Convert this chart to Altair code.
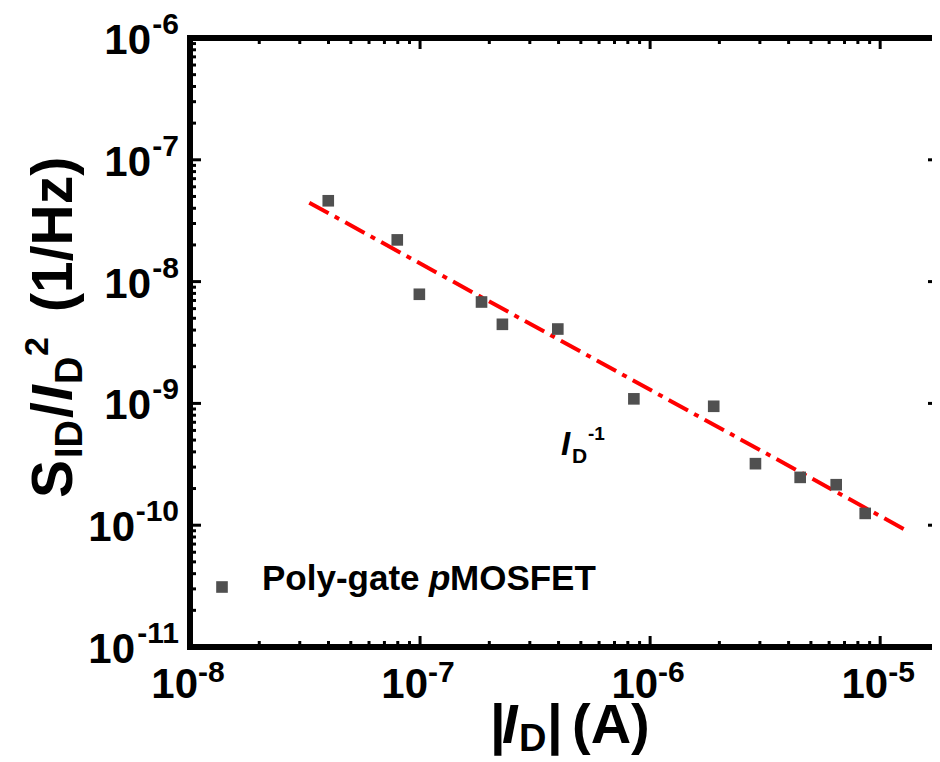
import altair as alt
import pandas as pd

# ---- data ----
id_a = [3.99e-8, 7.96e-8, 9.93e-8, 1.85e-7, 2.28e-7, 3.97e-7,
        8.5e-7, 1.89e-6, 2.87e-6, 4.49e-6, 6.44e-6, 8.61e-6]
sid_norm = [4.61e-8, 2.20e-8, 7.87e-9, 6.80e-9, 4.46e-9, 4.08e-9,
            1.09e-9, 9.47e-10, 3.20e-10, 2.47e-10, 2.15e-10, 1.25e-10]
fit_x = [3.3e-8, 1.33e-5]
fit_y = [4.45e-8, 8.85e-11]

x_label_vals = [1e-8, 1e-7, 1e-6, 1e-5]
x_label_exps = ["-8", "-7", "-6", "-5"]
y_label_vals = [1e-11, 1e-10, 1e-9, 1e-8, 1e-7, 1e-6]
y_label_exps = ["-11", "-10", "-9", "-8", "-7", "-6"]

x_major = [1e-8, 1e-7, 1e-6, 1e-5]
x_minor = [k * 10.0 ** d for d in (-8, -7, -6) for k in range(2, 10)]
y_major = [1e-10, 1e-9, 1e-8, 1e-7]
y_minor = [k * 10.0 ** d for d in (-11, -10, -9, -8, -7) for k in range(2, 10)]

FONT = "Liberation Sans, Arial, sans-serif"
W, H = 742, 609

xs = alt.Scale(type="log", domain=[1e-8, 1.68e-5], nice=False)
ys = alt.Scale(type="log", domain=[1e-11, 1e-6], nice=False)

pts = pd.DataFrame({"x": id_a, "y": sid_norm})
fit = pd.DataFrame({"x": fit_x, "y": fit_y})

points = alt.Chart(pts).mark_square(size=135, color="#505050", opacity=1).encode(
    x=alt.X("x:Q", scale=xs, axis=None), y=alt.Y("y:Q", scale=ys, axis=None))
line = alt.Chart(fit).mark_line(color="#ff0000", strokeWidth=4, strokeDash=[22, 7, 5, 7]).encode(
    x=alt.X("x:Q", scale=xs, axis=None), y=alt.Y("y:Q", scale=ys, axis=None))


def xticks(vals, y0, y1):
    return alt.Chart(pd.DataFrame({"v": vals})).mark_rule(color="black", strokeWidth=3).encode(
        x=alt.X("v:Q", scale=xs, axis=None), y=alt.value(y0), y2=alt.value(y1))


def yticks(vals, x0, x1):
    return alt.Chart(pd.DataFrame({"v": vals})).mark_rule(color="black", strokeWidth=3).encode(
        y=alt.Y("v:Q", scale=ys, axis=None), x=alt.value(x0), x2=alt.value(x1))


ticks = [
    xticks(x_major, H, H - 11), xticks(x_minor, H, H - 6),
    xticks(x_major, 0, 11), xticks(x_minor, 0, 6),
    yticks(y_major, 0, 11), yticks(y_minor, 0, 6),
    yticks(y_major, W, W - 4),
]

one = pd.DataFrame({"a": [0]})


def frame_h(y):
    return alt.Chart(one).mark_rule(color="black", strokeWidth=6).encode(
        x=alt.value(-3), x2=alt.value(W), y=alt.value(y))


frame = [
    frame_h(0), frame_h(H),
    alt.Chart(one).mark_rule(color="black", strokeWidth=6).encode(
        x=alt.value(0), y=alt.value(-3), y2=alt.value(H + 3)),
]

xl = pd.DataFrame({"v": x_label_vals, "e": x_label_exps})
x_base = alt.Chart(xl).mark_text(text="10", font=FONT, fontSize=42, fontWeight="bold",
                                 align="right", baseline="alphabetic", dx=8).encode(
    x=alt.X("v:Q", scale=xs, axis=None), y=alt.value(660))
x_sup = alt.Chart(xl).mark_text(font=FONT, fontSize=30, fontWeight="bold",
                                align="left", baseline="alphabetic", dx=8).encode(
    x=alt.X("v:Q", scale=xs, axis=None), y=alt.value(644), text="e:N")

yl = pd.DataFrame({"v": y_label_vals, "e": y_label_exps})
y_sup = alt.Chart(yl).mark_text(font=FONT, fontSize=30, fontWeight="bold",
                                align="right", baseline="alphabetic", dy=-4).encode(
    y=alt.Y("v:Q", scale=ys, axis=None), x=alt.value(-11), text="e:N")
y_base1 = alt.Chart(yl).transform_filter("length(datum.e) == 2").mark_text(
    text="10", font=FONT, fontSize=42, fontWeight="bold", align="right",
    baseline="alphabetic", dy=16).encode(
    y=alt.Y("v:Q", scale=ys, axis=None), x=alt.value(-39))
y_base2 = alt.Chart(yl).transform_filter("length(datum.e) == 3").mark_text(
    text="10", font=FONT, fontSize=42, fontWeight="bold", align="right",
    baseline="alphabetic", dy=16).encode(
    y=alt.Y("v:Q", scale=ys, axis=None), x=alt.value(-55))


def txt(s, x, y, size, italic=False, angle=0):
    return alt.Chart(one).mark_text(
        text=s, font=FONT, fontSize=size, fontWeight="bold",
        fontStyle="italic" if italic else "normal", align="left",
        baseline="alphabetic", angle=angle, color="black").encode(
        x=alt.value(x), y=alt.value(y))


# x title: |I_D| (A)
x_title = [
    txt("|", 300, 705, 56),
    txt("I", 312, 705, 56, italic=True),
    txt("D", 329, 713, 38),
    txt("|", 357, 705, 56),
    txt("(A)", 382, 705, 56),
]
# y title (rotated): S_ID / I_D ^2 (1/Hz)
Y0 = 112
y_title = [
    txt("S", -118, 348 + Y0, 57, angle=270),
    txt("ID", -108, 308 + Y0, 38, angle=270),
    txt("/", -118, 268 + Y0, 57, angle=270),
    txt("I", -118, 251 + Y0, 57, italic=True, angle=270),
    txt("D", -108, 234 + Y0, 38, angle=270),
    txt("2", -142, 206 + Y0, 34, angle=270),
    txt("(1/Hz)", -118, 162 + Y0, 57, angle=270),
]
# annotation I_D^-1
annot = [
    txt("I", 371, 417, 33, italic=True),
    txt("D", 382, 425, 21),
    txt("-1", 398, 402, 19),
]
# legend
leg_sym = alt.Chart(one).mark_square(size=135, color="#505050", opacity=1).encode(
    x=alt.value(32), y=alt.value(549))
legend = [
    leg_sym,
    txt("Poly-gate ", 72, 552, 35),
    txt("p", 239, 552, 35, italic=True),
    txt("MOSFET", 260, 552, 35),
]

chart = alt.layer(
    line, points, *ticks, *frame, x_base, x_sup, y_sup, y_base1, y_base2,
    *x_title, *y_title, *annot, *legend
).properties(
    width=W, height=H,
    padding={"left": 182, "top": 30, "right": 0, "bottom": 115},
    autosize=alt.AutoSizeParams(type="none"),
).configure_view(stroke="transparent")

chart.save("out.html", embed_options={"renderer": "svg", "actions": False})
